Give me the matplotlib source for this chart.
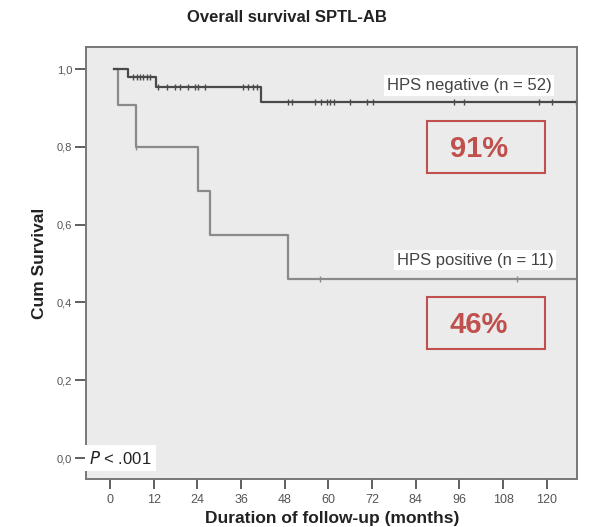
import matplotlib
matplotlib.use("Agg")
import matplotlib.pyplot as plt
from matplotlib.patches import Rectangle
import numpy as np

plt.rcParams['font.family'] = ['Liberation Sans', 'DejaVu Sans']

# HPS negative (n = 52): step times (months) and survival after each step
neg_times = [1, 5, 12.6, 41.6]
neg_surv = [1.0, 0.981, 0.955, 0.915]
neg_end = 127.9
neg_censor = [6.3, 7.4, 8.2, 9.0, 10.1, 11.0,
              13.2, 15.6, 17.8, 19.2, 21.4, 23.3, 24.1, 26.0,
              36.4, 37.8, 39.2, 40.5,
              48.8, 50.1, 56.2, 58.1, 59.5, 60.5, 61.6, 66.0, 70.7, 72.3,
              94.5, 97.3, 117.8, 121.4, 127.9]

# HPS positive (n = 11)
pos_times = [1, 2.2, 7.1, 24.1, 27.4, 48.8]
pos_surv = [1.0, 0.909, 0.80, 0.686, 0.573, 0.46]
pos_end = 128
pos_censor = [7.1, 57.8, 111.8]

xticks = [0, 12, 24, 36, 48, 60, 72, 84, 96, 108, 120]
yticks = [0.0, 0.2, 0.4, 0.6, 0.8, 1.0]
ytick_labels = ["0,0", "0,2", "0,4", "0,6", "0,8", "1,0"]


def step_xy(times, surv, end):
    x = list(times) + [end]
    y = list(surv) + [surv[-1]]
    return x, y


def surv_at(t, times, surv):
    idx = np.searchsorted(times, t, side="right") - 1
    return surv[max(idx, 0)]


fig = plt.figure(figsize=(5.9, 5.27), dpi=100)
W, H = 590, 527
ax = fig.add_axes([86 / W, 1 - 479 / H, (577 - 86) / W, (479 - 47) / H])
ax.set_facecolor("#ebebeb")

nx, ny = step_xy(neg_times, neg_surv, neg_end)
px, py = step_xy(pos_times, pos_surv, pos_end)
ax.step(px, py, where="post", color="#8a8a8a", linewidth=1.6)
ax.step(nx, ny, where="post", color="#4a4a4a", linewidth=1.6)

ax.plot(neg_censor, [surv_at(t, neg_times, neg_surv) for t in neg_censor],
        linestyle="none", marker="|", markersize=5, color="#4a4a4a", mew=1)
ax.plot(pos_censor, [surv_at(t, pos_times, pos_surv) for t in pos_censor],
        linestyle="none", marker="|", markersize=5, color="#8a8a8a", mew=1)

ax.set_xlim(-6.6, 128.3)
ax.set_ylim(-0.054, 1.057)
ax.set_xticks(xticks)
ax.set_yticks(yticks)
ax.set_yticklabels(ytick_labels)
ax.tick_params(axis="x", direction="out", length=7, width=1.2, pad=4,
               labelsize=9, colors="#444444", labelcolor="#555555")
ax.tick_params(axis="y", direction="out", length=8, width=1.2, pad=2,
               labelsize=8, colors="#444444", labelcolor="#555555")
for s in ax.spines.values():
    s.set_color("#777777")
    s.set_linewidth(1.4)

lab_box = dict(facecolor="white", edgecolor="none", pad=2)
ax.text(121.3, 0.958, "HPS negative (n = 52)", ha="right", va="center",
        fontsize=12, color="#444444", bbox=lab_box)
ax.text(121.8, 0.509, "HPS positive (n = 11)", ha="right", va="center",
        fontsize=12, color="#444444", bbox=lab_box)

red = "#c0504d"
for (x0, y0, x1, y1, txt) in [(87.1, 0.733, 119.5, 0.866, "91%"),
                               (87.1, 0.280, 119.5, 0.414, "46%")]:
    ax.add_patch(Rectangle((x0, y0), x1 - x0, y1 - y0, fill=False,
                           edgecolor=red, linewidth=1.5))
    ax.text(x0 + 0.44 * (x1 - x0), (y0 + y1) / 2 - 0.005, txt, ha="center",
            va="center", fontsize=21, fontweight="bold", color=red)

ax.text(-5.7, 0.0, r"$P$ < .001", ha="left", va="center", fontsize=12,
        color="#222222",
        bbox=dict(facecolor="white", edgecolor="none", pad=3))

fig.text(287 / W, 1 - 18 / H, "Overall survival SPTL-AB", ha="center",
         va="center", fontsize=12, fontweight="bold", color="#222222")
fig.text(39 / W, 1 - 263 / H, "Cum Survival", ha="center", va="center",
         rotation=90, fontsize=12.5, fontweight="bold", color="#222222")
fig.text(332 / W, 1 - 526 / H, "Duration of follow-up (months)", ha="center",
         va="bottom", fontsize=12.5, fontweight="bold", color="#222222")

fig.savefig("out.png", dpi=100)
